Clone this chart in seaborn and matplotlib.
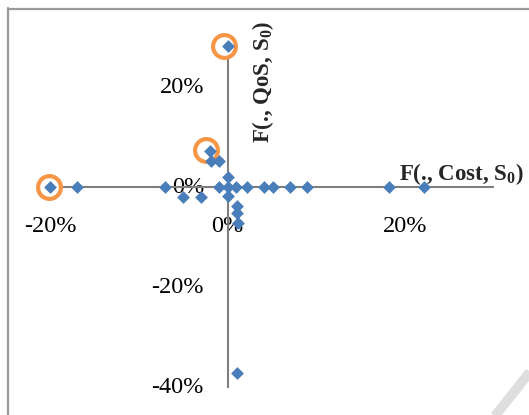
import matplotlib
matplotlib.use("Agg")
import matplotlib.pyplot as plt
from matplotlib.lines import Line2D
import seaborn as sns
import pandas as pd

# Sensitivity of each parameter: relative change in cost (x) and QoS (y), in percent
cost_change = [-20, -17, -7, -5, -3, -2, -1.9, -1, -1, 0, 0, 0, 0, 1, 2.2, 4.1, 5.1,
               7, 9, 18.2, 22.1, 1.1, 1.1, 1.2, 1.1]
qos_change = [0, 0, 0, -2, -2, 7.2, 5.2, 5.2, 0, 28.2, 2, 0, -1.8, 0, 0, 0, 0,
              0, 0, 0, 0, -3.8, -5.2, -7.2, -37]

# Highlighted parameters (ring centres)
ring_cost = [-0.45, -2.4, -20.1]
ring_qos = [28.2, 7.4, 0.1]

x_ticks = [-20, 0, 20]
y_ticks = [20, 0, -20, -40]
x_title = r"F(., Cost, $\mathbf{S_0}$)"
y_title = r"F(., QoS, $\mathbf{S_0}$)"

sns.set_theme(style="white")
plt.rcParams["font.family"] = ["Liberation Serif", "DejaVu Serif"]
plt.rcParams["mathtext.fontset"] = "custom"
plt.rcParams["mathtext.rm"] = "Liberation Serif"
plt.rcParams["mathtext.bf"] = "Liberation Serif:bold"
plt.rcParams["mathtext.it"] = "Liberation Serif:italic"

W, H = 529, 415
fig = plt.figure(figsize=(W / 100, H / 100), dpi=100)
fig.patch.set_facecolor("white")

left_px, right_px, top_px, bottom_px = 50, 493.75, 37.5, 387.5
ax = fig.add_axes([left_px / W, (H - bottom_px) / H,
                   (right_px - left_px) / W, (bottom_px - top_px) / H])
ax.set_xlim(-0.2, 0.3)
ax.set_ylim(-0.4, 0.3)
ax.set_facecolor("none")
for s in ax.spines.values():
    s.set_visible(False)
ax.set_xticks([])
ax.set_yticks([])

axis_col = "#7f7f7f"
ax.axhline(0, color=axis_col, lw=1.5, zorder=1)
ax.axvline(0, color=axis_col, lw=1.5, zorder=1)

pts = pd.DataFrame({"cost": [v / 100 for v in cost_change],
                    "qos": [v / 100 for v in qos_change]})
rings = pd.DataFrame({"cost": [v / 100 for v in ring_cost],
                      "qos": [v / 100 for v in ring_qos]})

sns.scatterplot(data=rings, x="cost", y="qos", ax=ax, marker="o", s=270,
                facecolors="white", edgecolor="#F79646", linewidth=3.0,
                zorder=2, legend=False, clip_on=False)
sns.scatterplot(data=pts, x="cost", y="qos", ax=ax, marker="D", s=36,
                color="#4A7EBB", edgecolor="#4A7EBB", linewidth=0.5,
                zorder=3, legend=False, clip_on=False)
ax.set_xlabel("")
ax.set_ylabel("")

# Tick labels placed next to the crossing axes
for t in x_ticks:
    ax.annotate(f"{t}%", xy=(t / 100, 0), xytext=(0, -28), textcoords="offset points",
                ha="center", va="center", fontsize=17.5, color="black", zorder=0)
for t in y_ticks:
    ax.annotate(f"{t}%", xy=(0, t / 100), xytext=(-17, 0), textcoords="offset points",
                ha="right", va="center", fontsize=17.5, color="black", zorder=0)

fig.text(461 / W, 1 - 174 / H, x_title, ha="center", va="center",
         fontsize=16.5, fontweight="bold")
fig.text(263 / W, 1 - 82 / H, y_title, ha="center", va="center",
         fontsize=16.5, fontweight="bold", rotation=90)

# Surrounding frame and page edge
frame_col = "#9a9a9a"
fig.add_artist(Line2D([8 / W, 8 / W], [0, 1 - 8 / H], color=frame_col, lw=1.6,
                      transform=fig.transFigure))
fig.add_artist(Line2D([8 / W, 1.02], [1 - 9 / H, 1 - 9 / H], color=frame_col, lw=1.6,
                      transform=fig.transFigure))
fig.add_artist(Line2D([491 / W, 545 / W], [1 - 421 / H, 1 - 353 / H], color="#dedede",
                      lw=7, solid_capstyle="butt", transform=fig.transFigure))

fig.savefig("out.png", dpi=100, facecolor="white")
